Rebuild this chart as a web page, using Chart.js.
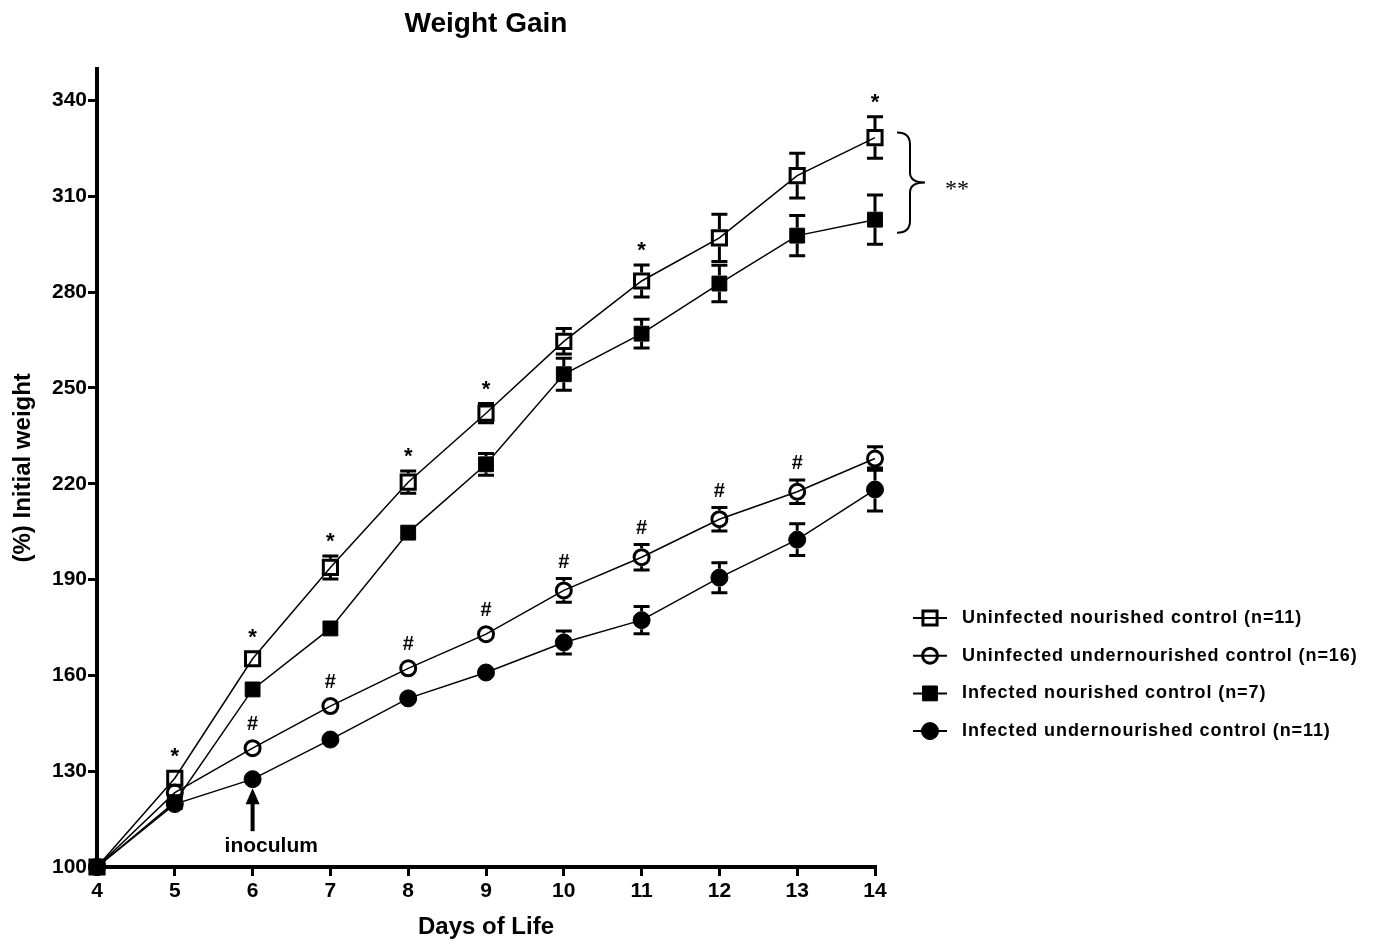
<!DOCTYPE html>
<html>
<head>
<meta charset="utf-8">
<script src="https://cdn.jsdelivr.net/npm/chart.js@4"></script>
<style>
html, body { margin: 0; padding: 0; background: #fff; }
</style>
</head>
<body>
<canvas id="weight-chart" width="1374" height="945"></canvas>
<script>
"use strict";
const days = [4, 5, 6, 7, 8, 9, 10, 11, 12, 13, 14];
const yTicks = [100, 130, 160, 190, 220, 250, 280, 310, 340];

const uninfNour = [100, 127.8, 165.2, 193.8, 220.5, 242.1, 264.6, 283.5, 297.0, 316.5, 328.4];
const uninfNourErr = [0, 1.5, 1.5, 3.6, 3.5, 3.0, 4.0, 5.0, 7.4, 7.0, 6.5];
const uninfUnder = [100, 123.3, 137.2, 150.4, 162.2, 172.9, 186.6, 197.0, 208.9, 217.5, 227.9];
const uninfUnderErr = [0, 1, 1.5, 1.5, 1.5, 2.9, 3.7, 4.0, 3.7, 3.7, 3.7];
const infNour = [100, 120.3, 155.6, 174.7, 204.7, 226.1, 254.3, 267.0, 282.7, 297.7, 302.7];
const infNourErr = [0, 1, 1.5, 1.5, 1.5, 3.4, 5.0, 4.5, 5.7, 6.3, 7.7];
const infUnder = [100, 119.7, 127.5, 139.9, 152.8, 160.9, 170.3, 177.3, 190.6, 202.5, 218.2];
const infUnderErr = [0, 1, 1, 1, 1, 1.5, 3.6, 4.3, 4.7, 5.0, 6.7];

const starDays = [5, 6, 7, 8, 9, 11, 14];
const hashDays = [6, 7, 8, 9, 10, 11, 12, 13];

const FONT = "'Liberation Sans', Arial, sans-serif";

function series(label, values, errors, style, radius, filled) {
    return {
        label: label,
        data: days.map((d, i) => ({ x: d, y: values[i] })),
        errors: errors,
        borderColor: '#000',
        borderWidth: 1.5,
        pointStyle: style,
        pointRadius: radius,
        pointBorderWidth: filled ? 1 : 3,
        pointBackgroundColor: filled ? '#000' : 'rgba(0,0,0,0)',
        pointBorderColor: '#000',
        tension: 0,
        clip: false
    };
}

function markerHalf(ds) {
    const r = ds.pointStyle === 'rect' ? ds.pointRadius * Math.SQRT1_2 : ds.pointRadius;
    return r + ds.pointBorderWidth / 2;
}

// top of the error bar cap, or of the marker when no bar shows
function markTop(chart, ds, j) {
    const y = chart.scales.y;
    const py = y.getPixelForValue(ds.data[j].y);
    const cap = y.getPixelForValue(ds.data[j].y + ds.errors[j]);
    const half = markerHalf(ds);
    return (py - cap > half + 1) ? cap - 1.5 : py - half;
}

const extras = {
    id: 'extras',
    afterDatasetsDraw(chart) {
        const ctx = chart.ctx;
        const xs = chart.scales.x, ys = chart.scales.y;
        const area = chart.chartArea;
        const sets = chart.data.datasets;
        ctx.save();

        // error bars
        ctx.strokeStyle = '#000';
        ctx.lineWidth = 3;
        sets.forEach(ds => {
            const half = markerHalf(ds);
            ds.errors.forEach((e, j) => {
                const px = xs.getPixelForValue(ds.data[j].x);
                const py = ys.getPixelForValue(ds.data[j].y);
                const top = ys.getPixelForValue(ds.data[j].y + e);
                const bot = ys.getPixelForValue(ds.data[j].y - e);
                if (py - top <= half + 1) return;
                ctx.beginPath();
                ctx.moveTo(px, py - half); ctx.lineTo(px, top);
                ctx.moveTo(px - 8, top); ctx.lineTo(px + 8, top);
                ctx.moveTo(px, py + half); ctx.lineTo(px, bot);
                ctx.moveTo(px - 8, bot); ctx.lineTo(px + 8, bot);
                ctx.stroke();
            });
        });

        // significance marks
        ctx.fillStyle = '#000';
        ctx.textAlign = 'center';
        ctx.textBaseline = 'alphabetic';
        ctx.font = 'bold 22px ' + FONT;
        starDays.forEach(d => {
            const j = days.indexOf(d);
            const c = markTop(chart, sets[0], j) - 19;
            ctx.fillText('*', xs.getPixelForValue(d), c + 12.5);
        });
        ctx.font = 'bold 20px ' + FONT;
        hashDays.forEach(d => {
            const j = days.indexOf(d);
            const c = markTop(chart, sets[1], j) - 16;
            ctx.fillText('#', xs.getPixelForValue(d), c + 7);
        });

        // brace and ** at day 14
        const last = days.length - 1;
        const bTop = ys.getPixelForValue(uninfNour[last]) - 5;
        const bBot = ys.getPixelForValue(infNour[last]) + 13;
        const bMid = (bTop + bBot) / 2;
        const x0 = area.right + 22, xv = x0 + 13, xt = x0 + 28;
        ctx.lineWidth = 2;
        ctx.beginPath();
        ctx.moveTo(x0, bTop);
        ctx.quadraticCurveTo(xv, bTop, xv, bTop + 12);
        ctx.lineTo(xv, bMid - 10);
        ctx.quadraticCurveTo(xv, bMid, xt, bMid);
        ctx.quadraticCurveTo(xv, bMid, xv, bMid + 10);
        ctx.lineTo(xv, bBot - 12);
        ctx.quadraticCurveTo(xv, bBot, x0, bBot);
        ctx.stroke();
        ctx.textAlign = 'left';
        ctx.font = "24px 'Liberation Serif', serif";
        ctx.fillText('**', x0 + 48, bMid + 13);

        // inoculum arrow at day 6
        const ax = xs.getPixelForValue(6);
        const tip = ys.getPixelForValue(infUnder[2]) + 9;
        ctx.lineWidth = 4;
        ctx.beginPath();
        ctx.moveTo(ax, tip + 14); ctx.lineTo(ax, tip + 43);
        ctx.stroke();
        ctx.beginPath();
        ctx.moveTo(ax, tip); ctx.lineTo(ax - 7, tip + 16); ctx.lineTo(ax + 7, tip + 16);
        ctx.closePath();
        ctx.fill();
        ctx.font = 'bold 21px ' + FONT;
        ctx.fillText('inoculum', ax - 28, tip + 64);

        // legend
        const lx = area.right + 55;
        ctx.textBaseline = 'middle';
        sets.forEach((ds, i) => {
            const ly = 618 + i * 37.7;
            ctx.strokeStyle = '#000';
            ctx.lineWidth = 2;
            ctx.beginPath();
            ctx.moveTo(lx - 17, ly); ctx.lineTo(lx + 17, ly);
            ctx.stroke();
            ctx.fillStyle = ds.pointBackgroundColor;
            ctx.lineWidth = ds.pointBorderWidth;
            Chart.helpers.drawPoint(ctx, {
                pointStyle: ds.pointStyle, radius: ds.pointRadius,
                borderWidth: ds.pointBorderWidth, rotation: 0
            }, lx, ly);
            ctx.fillStyle = '#000';
            ctx.font = 'bold 18px ' + FONT;
            ctx.letterSpacing = '0.9px';
            ctx.fillText(ds.label, lx + 32, ly);
            ctx.letterSpacing = '0px';
        });
        ctx.restore();
    }
};

const ctx = document.getElementById('weight-chart');
new Chart(ctx, {
    type: 'line',
    data: {
        datasets: [
            series('Uninfected nourished control (n=11)', uninfNour, uninfNourErr, 'rect', 10, false),
            series('Uninfected undernourished control (n=16)', uninfUnder, uninfUnderErr, 'circle', 7.5, false),
            series('Infected nourished control (n=7)', infNour, infNourErr, 'rect', 10.5, true),
            series('Infected undernourished control (n=11)', infUnder, infUnderErr, 'circle', 8.5, true)
        ]
    },
    options: {
        responsive: false,
        animation: false,
        layout: { padding: { left: 0, right: 499, top: 0, bottom: 0 } },
        scales: {
            x: {
                type: 'linear',
                min: 4,
                max: 14,
                afterFit: s => { s.height = 78; },
                border: { display: true, color: '#000', width: 4 },
                grid: { drawOnChartArea: false, drawTicks: true, tickLength: 9, color: '#000', lineWidth: 3, tickWidth: 3 },
                ticks: { stepSize: 1, autoSkip: false, padding: 3, color: '#000', font: { family: FONT, size: 21, weight: 'bold' } },
                title: { display: true, text: 'Days of Life', color: '#000', padding: { top: 0, bottom: 3 }, font: { family: FONT, size: 24, weight: 'bold' } }
            },
            y: {
                min: 100,
                max: 350,
                afterFit: s => { s.width = 97; },
                afterBuildTicks: s => { s.ticks = yTicks.map(v => ({ value: v })); },
                border: { display: true, color: '#000', width: 4 },
                grid: { drawOnChartArea: false, drawTicks: true, tickLength: 9, color: '#000', lineWidth: 3, tickWidth: 3 },
                ticks: { padding: 1, color: '#000', font: { family: FONT, size: 21, weight: 'bold' } },
                title: { display: true, text: '(%) Initial weight', color: '#000', padding: { top: 9, bottom: 0 }, font: { family: FONT, size: 24, weight: 'bold' } }
            }
        },
        plugins: {
            legend: { display: false },
            tooltip: { enabled: false },
            title: {
                display: true,
                text: 'Weight Gain',
                fullSize: false,
                color: '#000',
                font: { family: FONT, size: 28, weight: 'bold' },
                padding: { top: 7, bottom: 28 }
            }
        }
    },
    plugins: [extras]
});
</script>
</body>
</html>
